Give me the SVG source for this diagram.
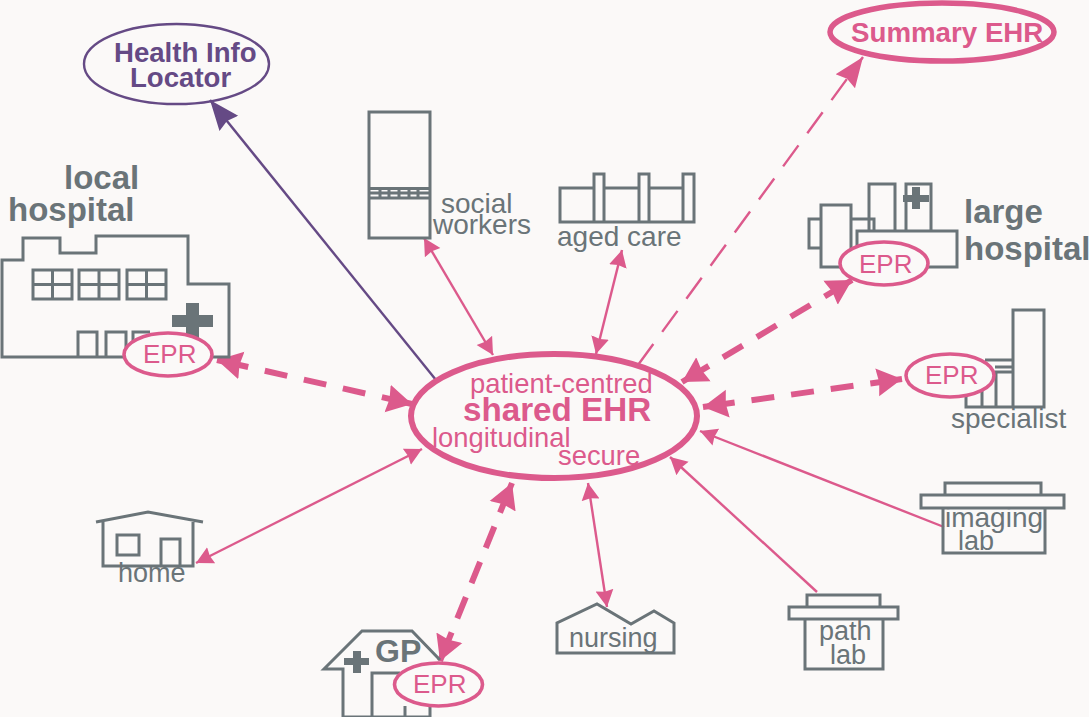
<svg xmlns="http://www.w3.org/2000/svg" width="1089" height="717" viewBox="0 0 1089 717">
<style>
text{font-family:"Liberation Sans",Arial,sans-serif}
.b{fill:none;stroke:#6a7478;stroke-width:3}
.f{fill:#6a7478}
.gt{fill:#6a7478;font-size:28px}
.gs{fill:#6a7478;font-size:27px}
.gb{fill:#6a7478;font-size:33px;font-weight:bold}
.pt{fill:#dc5a8c;font-size:27.400px}
.ep{fill:#dc5a8c;font-size:26px}
.epr{fill:#fbf9f8;stroke:#dc5a8c;stroke-width:3.600}
.c{fill:none;stroke:#dc5a8c;stroke-width:2.400}
.t{fill:none;stroke:#dc5a8c;stroke-width:6}
.pb{fill:#654a85;font-size:27.600px;font-weight:bold}
</style>
<defs>
<marker id="a" markerUnits="userSpaceOnUse" markerWidth="22" markerHeight="20" refX="17" refY="9" orient="auto-start-reverse" viewBox="0 0 22 18"><path d="M0 0L17 9L0 18L1.500 9z" fill="#dc5a8c"/></marker>
<marker id="A" markerUnits="userSpaceOnUse" markerWidth="32" markerHeight="30" refX="25" refY="14" orient="auto-start-reverse" viewBox="0 0 32 28"><path d="M0 0L25 14L0 28L2 14z" fill="#dc5a8c"/></marker>
<marker id="S" markerUnits="userSpaceOnUse" markerWidth="36" markerHeight="26" refX="30" refY="12" orient="auto" viewBox="0 0 36 24"><path d="M0 0L30 12L0 24L3 12z" fill="#dc5a8c"/></marker>
<marker id="m" markerUnits="userSpaceOnUse" markerWidth="36" markerHeight="26" refX="30" refY="12" orient="auto" viewBox="0 0 36 24"><path d="M0 0L30 12L0 24L3 12z" fill="#654a85"/></marker>
</defs>
<rect width="1089" height="717" fill="#fbf9f8"/>
<g id="connectors">
<path d="M436 380L210 100" fill="none" stroke="#654a85" stroke-width="2.400" marker-end="url(#m)"/>
<path d="M638 365L863 57" class="c" stroke-dasharray="26 15" marker-end="url(#S)"/>
<path d="M217 360L412 404" class="t" stroke-dasharray="32 17 23 17 23 17 23 17 32" marker-start="url(#A)" marker-end="url(#A)"/>
<path d="M424 238L493 355" class="c" marker-start="url(#a)" marker-end="url(#a)"/>
<path d="M622 250L596 354" class="c" marker-start="url(#a)" marker-end="url(#a)"/>
<path d="M852 280L682 382" class="t" stroke-dasharray="32 16.500 23 16.500 23 16.500 23 16.500 32" marker-start="url(#A)" marker-end="url(#A)"/>
<path d="M902 379L703 407" class="t" stroke-dasharray="32 17 23 17 23 17 23 17 32" marker-start="url(#A)" marker-end="url(#A)"/>
<path d="M944 527L700 431" class="c" marker-end="url(#a)"/>
<path d="M817 592L670 457" class="c" marker-end="url(#a)"/>
<path d="M588 483L607 607" class="c" marker-start="url(#a)" marker-end="url(#a)"/>
<path d="M512 483L440 661" class="t" stroke-dasharray="32 15 23 15 23 15 23 15 32" marker-start="url(#A)" marker-end="url(#A)"/>
<path d="M422 449L196 563" class="c" marker-start="url(#a)" marker-end="url(#a)"/>
</g>
<g id="shared-ehr">
<ellipse cx="554" cy="416" rx="143" ry="62" fill="none" stroke="#dc5a8c" stroke-width="6"/>
<text x="470" y="393" class="pt">patient-centred</text>
<text x="463" y="421" class="pt" style="font-size:33.200px;font-weight:bold">shared EHR</text>
<text x="432" y="447" class="pt">longitudinal</text>
<text x="558" y="465" class="pt">secure</text>
</g>
<g id="health-info-locator">
<ellipse cx="176.500" cy="64" rx="92.500" ry="40" fill="none" stroke="#654a85" stroke-width="2.400"/>
<text x="114" y="62" class="pb">Health Info</text>
<text x="130" y="87" class="pb">Locator</text>
</g>
<g id="summary-ehr">
<ellipse cx="942" cy="32" rx="112" ry="29" fill="none" stroke="#dc5a8c" stroke-width="5.500"/>
<text x="851" y="42" fill="#dc5a8c" style="font-size:27.700px;font-weight:bold">Summary EHR</text>
</g>
<g id="local-hospital">
<text x="64" y="189" class="gb">local</text>
<text x="8" y="221" class="gb">hospital</text>
<path class="b" d="M229 357V284H188V236H96V253H60V238H23V260H2V357Z"/>
<path class="b" d="M33 270H72V299H33ZM52.500 270V299M33 284.500H72M79 270H119V299H79ZM99 270V299M79 284.500H119M127 270H166V299H127ZM146.500 270V299M127 284.500H166M78 357V332H97V357M106 357V332H126V357M133 357V332H150"/>
<path class="f" d="M186 303H199V315H213V327H199V340H186V327H172V315H186Z"/>
<ellipse cx="168" cy="354.500" rx="44" ry="21.500" class="epr"/>
<text x="143" y="363" class="ep">EPR</text>
</g>
<g id="large-hospital">
<text x="964" y="223" class="gb">large</text>
<text x="964" y="260" class="gb">hospital</text>
<path class="b" d="M821 219H809V248H821M821 205H851V267H821ZM851 219H874V231M869 231V184H895V231M906 231V184H931V231M857 267V231H957V267H900"/>
<path class="f" d="M912 187H920V195H929V202H920V209H912V202H903V195H912Z"/>
<ellipse cx="884" cy="263.500" rx="44" ry="21.500" class="epr"/>
<text x="859" y="273" class="ep">EPR</text>
</g>
<g id="specialist">
<path class="b" d="M1013 310H1044V407H1013ZM1013 407H966V380M982 407V380M996 407V371M985 360H1013M995 367H1013M995 372H1013"/>
<ellipse cx="950" cy="375.500" rx="44" ry="21.500" class="epr"/>
<text x="925" y="384" class="ep">EPR</text>
<text x="951" y="428" class="gt">specialist</text>
</g>
<g id="social-workers">
<path class="b" d="M369 112H430V238H369ZM369 188.500H430M369 193H430M369 198H430M380 189V193M389 189V193M399 189V193M409 189V193M418 189V193M380 193V198M389 193V198M399 193V198M409 193V198M418 193V198"/>
<text x="441" y="213" class="gt">social</text>
<text x="433" y="234" class="gt">workers</text>
</g>
<g id="aged-care">
<path class="b" d="M594 222H560V188H594M604 188H639M649 188H683M594 222V174H604V222ZM639 222V174H649V222ZM683 222V174H694V222ZM560 222H694"/>
<text x="557" y="246" class="gt">aged care</text>
</g>
<g id="home">
<path class="b" d="M96 522L148 512L203 522M103 522V566H193V522M117 535H139V555H117ZM161 566V539H180V566"/>
<text x="118" y="582" class="gs">home</text>
</g>
<g id="gp">
<path class="b" d="M440 660L412 631H362L324 669H343V717H430V706M372 717V673H400M405 717V706"/>
<path class="f" d="M353 651H361V658H369V665H361V673H353V665H344V658H353Z"/>
<text x="375" y="662" class="gb" style="font-size:32px">GP</text>
<ellipse cx="438.500" cy="684.500" rx="44" ry="21.500" class="epr"/>
<text x="413" y="693" class="ep">EPR</text>
</g>
<g id="nursing">
<path class="b" d="M557 653V623L597 604L631 624L654 611L674 623V653Z"/>
<text x="569" y="647" class="gs">nursing</text>
</g>
<g id="path-lab">
<path class="b" d="M807 595H880V607H807ZM789 607H898V619H789ZM805 619V669H883V619"/>
<text x="819" y="640" class="gs">path</text>
<text x="830" y="664" class="gs">lab</text>
</g>
<g id="imaging-lab">
<path class="b" d="M945 483H1041V495H945ZM921 495H1064V508H921ZM943 508V553H1045V508"/>
<text x="945" y="527" class="gt">imaging</text>
<text x="958" y="550" class="gs">lab</text>
</g>
</svg>
